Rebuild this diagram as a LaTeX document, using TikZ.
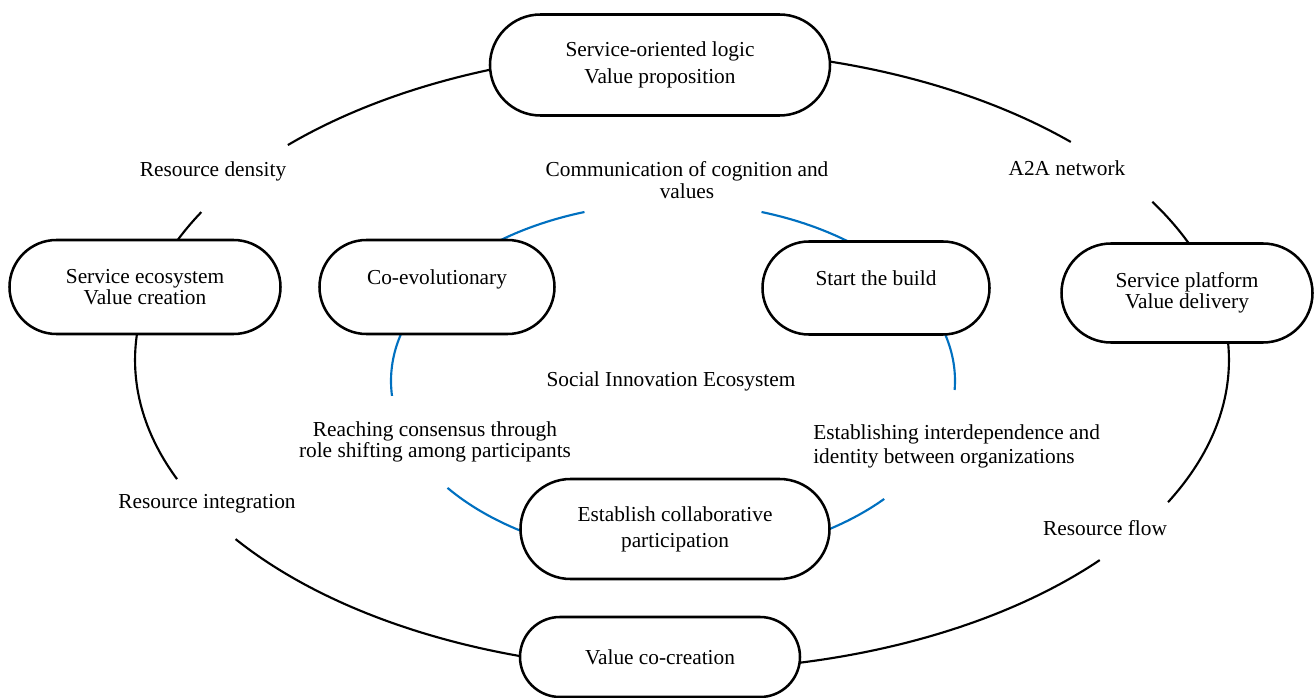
\documentclass[tikz,border=0pt]{standalone}
\usepackage{fontspec}
\setmainfont{Liberation Serif}
\usetikzlibrary{shapes.misc}
\definecolor{ringblue}{RGB}{0,112,192}
\newcommand{\txtsize}[1]{\fontsize{16pt}{#1}\selectfont}
\tikzset{
  stage/.style={draw, line width=1.9pt, rounded rectangle, fill=white, align=center, inner sep=0pt},
  note/.style={align=center, inner sep=0pt},
  ring/.style={line width=1.6pt},
}
\begin{document}
\begin{tikzpicture}[x=0.75pt,y=-0.75pt,font=\txtsize{15.75pt}]
	\useasboundingbox (0,0) rectangle (1315,698);

	% outer ring, broken where the labels sit
	\foreach \a/\b in {40.2/144.7,157.4/208.5,223.9/315.3,329.3/387.3} {
		\draw[ring] (682,360) ++(\a:547 and 310) arc[start angle=\a, end angle=\b, x radius=547, y radius=310];
	};
	% inner ring
	\foreach \a/\b in {41.5/143.1,175.2/251.7,288.3/362.9} {
		\draw[ring,ringblue] (673,381) ++(\a:282 and 178) arc[start angle=\a, end angle=\b, x radius=282, y radius=178];
	};

	\node[stage, minimum width=255pt, minimum height=75.75pt, font=\txtsize{20.25pt}] (vp) at (660,65) {Service-oriented logic\\Value proposition};
	\node[stage, minimum width=203.25pt, minimum height=70.5pt] (eco) at (145,287) {Service ecosystem\\Value creation};
	\node[stage, minimum width=188.25pt, minimum height=74.25pt, font=\txtsize{13.5pt}] (platform) at (1187,293) {Service platform\\Value delivery};
	\node[stage, minimum width=210pt, minimum height=60pt] (cocreate) at (660,657) {Value co-creation};
	\node[stage, minimum width=176.25pt, minimum height=70.5pt, font=\txtsize{15pt}] (coevo) at (437,287) {Co-evolutionary\\\mbox{}};
	\node[stage, minimum width=170.25pt, minimum height=69.75pt, font=\txtsize{15pt}] (build) at (876,288) {Start the build\\\mbox{}};
	\node[stage, minimum width=231.75pt, minimum height=75pt, font=\txtsize{19.5pt}] (collab) at (675,529) {Establish collaborative\\participation};

	\node[note] (rdensity) at (213,171) {Resource density};
	\node[note] (atoa) at (1067,168) {A2A network};
	\node[note] (rinteg) at (207,504) {Resource integration};
	\node[note] (rflow) at (1105,528) {Resource flow};
	\node[note, font=\txtsize{16.5pt}] (comm) at (687,180) {Communication of cognition and\\values};
	\node[note] (sie) at (671,381) {Social Innovation Ecosystem};
	\node[note] (consensus) at (435,442) {Reaching consensus through\\role shifting among participants};
	\node[note, align=left, anchor=west, font=\txtsize{18pt}] (interdep) at (813,446) {Establishing interdependence and\\identity between organizations};
\end{tikzpicture}
\end{document}
